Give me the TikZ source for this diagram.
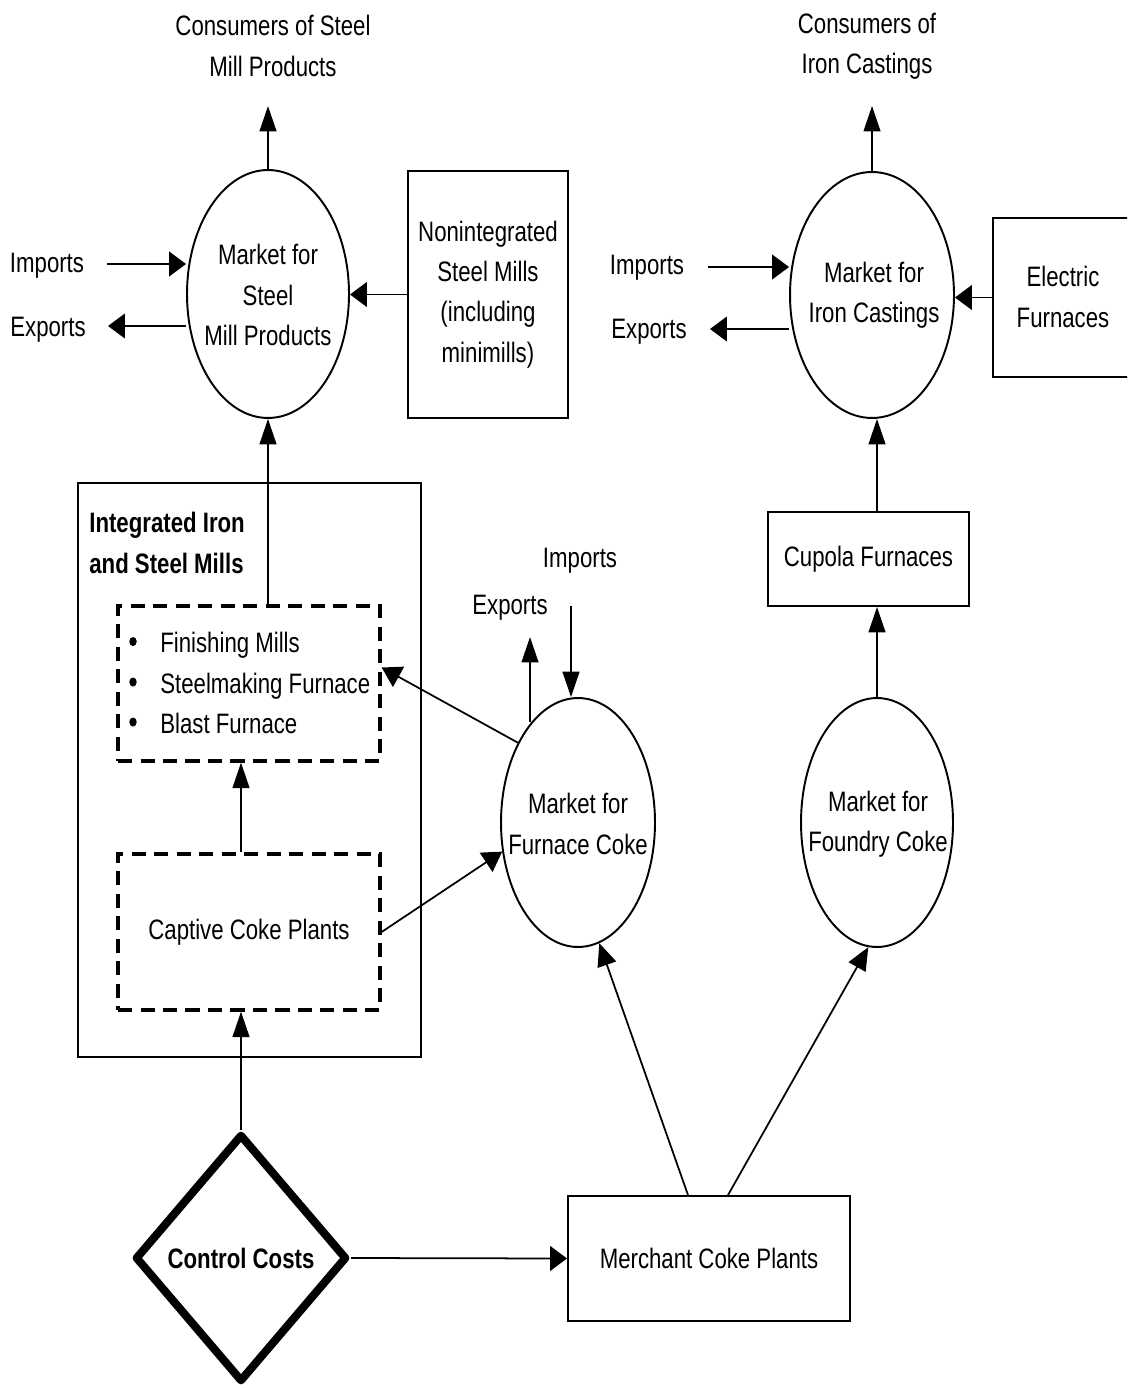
\documentclass[tikz,border=0pt]{standalone}
\usepackage{fontspec}
\setmainfont{Liberation Sans}[FakeStretch=0.79]
\usetikzlibrary{shapes.geometric,arrows.meta,calc}
\begin{document}
\begin{tikzpicture}[x=0.02cm,y=-0.02cm,
  txt/.style={inner sep=0pt, align=center, font=\fontsize{16pt}{23pt}\selectfont},
  btxt/.style={inner sep=0pt, align=left, font=\fontsize{16pt}{23pt}\selectfont\bfseries},
  box/.style={draw, line width=1.1pt, inner sep=0pt},
  oval/.style={draw, ellipse, line width=1.1pt, inner sep=0pt},
  dbox/.style={draw, line width=1.9pt, dash pattern=on 8pt off 4.8pt, inner sep=0pt},
  dot/.style={fill, ellipse, inner sep=0pt, minimum width=0.15cm, minimum height=0.18cm},
  conn/.style={line width=1pt},
  harr/.style={conn, -{Triangle[length=9.6pt,width=14pt]}},
  varr/.style={conn, -{Triangle[length=14.5pt,width=9.6pt]}},
  darr/.style={conn, -{Triangle[length=13pt,width=11pt]}},
  sarr/.style={conn, -{Triangle[length=11pt,width=13pt]}},
]
\useasboundingbox (0,0) rectangle (1127,1388);
\clip (0,0) rectangle (1127,1388);

% top consumer labels
\node[txt] (cs) at (273,46) {Consumers of Steel\\Mill Products};
\node[txt] (ci) at (867,46) {Consumers of\\Iron Castings};
\coordinate (topS) at (268,106);
\coordinate (topI) at (872,106);

% steel market
\node[oval, minimum width=3.24cm, minimum height=4.96cm] (sm) at (268,294) {};
\node[txt] (smt) at (268,295) {Market for\\Steel\\Mill Products};
\node[box, txt, minimum width=3.2cm, minimum height=4.94cm] (ni) at (488,294.5) {Nonintegrated\\Steel Mills\\(including\\minimills)};
\node[txt] (imS) at (47,266) {Imports};
\node[txt] (exS) at (48,330) {Exports};
\coordinate (imSs) at (107,264);
\coordinate (exSe) at (108,326);

% iron castings market
\node[oval, minimum width=3.28cm, minimum height=4.92cm] (ic) at (872,295) {};
\node[txt] (ict) at (874,295) {Market for\\Iron Castings};
\node[box, minimum width=2.94cm, minimum height=3.18cm] (ef) at (1066.5,297.5) {};
\node[txt] (eft) at (1063,297) {Electric\\Furnaces};
\node[txt] (imI) at (647,268) {Imports};
\node[txt] (exI) at (649,332) {Exports};
\coordinate (imIs) at (708,267);
\coordinate (exIe) at (710,329);

% integrated mills
\node[box, minimum width=6.86cm, minimum height=11.48cm] (ism) at (249.5,770) {};
\node[btxt, anchor=west] (ist) at (89,543) {Integrated Iron\\and Steel Mills};
\node[dbox, minimum width=5.24cm, minimum height=3.1cm] (d1) at (249,683.5) {};
\node[dot] (b1) at (133,641.5) {};
\node[dot] (b2) at (133,682) {};
\node[dot] (b3) at (133,722) {};
\node[txt, anchor=base west] (t1) at (160,652) {Finishing Mills};
\node[txt, anchor=base west] (t2) at (160,693) {Steelmaking Furnace};
\node[txt, anchor=base west] (t3) at (160,733) {Blast Furnace};
\node[dbox, txt, minimum width=5.24cm, minimum height=3.12cm] (d2) at (249,932) {Captive Coke Plants};

% coke markets
\node[oval, minimum width=3.08cm, minimum height=4.98cm] (fc) at (578,822.5) {};
\node[txt] (fct) at (578,824) {Market for\\Furnace Coke};
\node[oval, minimum width=3.04cm, minimum height=4.98cm] (fd) at (877,822.5) {};
\node[txt] (fdt) at (878,824) {Market for\\Foundry Coke};
\node[txt] (imF) at (580,561) {Imports};
\node[txt] (exF) at (510,608) {Exports};
\coordinate (imFs) at (571,606);
\coordinate (exFe) at (530,637);

\node[box, txt, minimum width=4.02cm, minimum height=1.88cm] (cup) at (868.5,559) {Cupola Furnaces};
\node[box, txt, minimum width=5.64cm, minimum height=2.5cm] (mcp) at (709,1258.5) {Merchant Coke Plants};

% control costs
\node[draw, diamond, line width=4.6pt, line join=round, minimum width=4.24cm, minimum height=4.96cm, inner sep=0pt] (cc) at (241,1258) {};
\node[btxt] (cct) at (241,1258) {Control Costs};

% connectors
\draw[varr] (sm.north) -- (sm.north |- topS);
\draw[varr] (ic.north) -- (ic.north |- topI);
\draw[harr] (imSs) -- (imSs -| sm.west);
\draw[harr] (exSe -| sm.west) -- (exSe);
\draw[harr] (ni.west) -- (ni.west -| sm.east);
\draw[harr] (imIs) -- (imIs -| ic.west);
\draw[harr] (exIe -| ic.west) -- (exIe);
\draw[harr] (ef.west) -- (ef.west -| ic.east);

\draw[varr] (d1.north -| sm.south) -- (sm.south);
\draw[varr] (d2.north -| cc.north) -- (d1.south -| cc.north);
\draw[varr] (cc.north) -- (cc.north |- d2.south);

\draw[sarr] (fc.127) -- ($(d1.east)+(0,-16)$);
\draw[sarr] (d2.east) -- (fc.201);
\draw[varr] (imFs) -- (imFs |- fc.north);
\draw[varr] (exFe |- fc.115) -- (exFe);

\draw[varr] (fd.north) -- (fd.north |- cup.south);
\draw[varr] (cup.north -| fd.north) -- (ic.south -| fd.north);

\draw[darr] ($(mcp.north)+(-21,0)$) -- (fc.-80);
\draw[darr] ($(mcp.north)+(19,0)$) -- (fd.-94);
\draw[harr] (cc.east) -- (mcp.west);
\end{tikzpicture}
\end{document}
